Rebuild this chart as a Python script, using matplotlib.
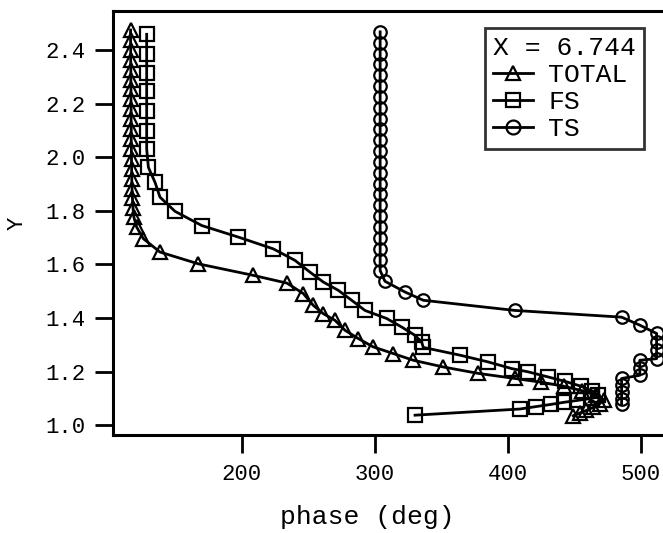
import matplotlib
matplotlib.use("Agg")
import matplotlib.pyplot as plt
from matplotlib.lines import Line2D

# ---- data ----
total_phase = [116.5, 116.5, 116.6, 116.6, 116.7, 116.7, 116.8, 116.8, 116.9, 116.9,
               117.0, 117.0, 117.1, 117.2, 117.3, 117.4, 117.6, 117.9, 118.3, 119.0,
               121.1, 126.1, 138.6, 167.4, 208.7, 234.0, 246.3, 253.8, 261.3, 270.1,
               277.6, 287.6, 298.8, 313.9, 328.9, 351.4, 377.7, 405.3, 425.0, 442.0,
               456.0, 466.0, 472.0, 469.0, 464.0, 459.0, 454.0, 449.0]
total_y = [2.475, 2.438, 2.401, 2.364, 2.327, 2.290, 2.253, 2.216, 2.179, 2.142,
           2.105, 2.068, 2.031, 1.994, 1.957, 1.920, 1.883, 1.848, 1.812, 1.776,
           1.739, 1.696, 1.646, 1.602, 1.559, 1.530, 1.491, 1.447, 1.416, 1.391,
           1.354, 1.323, 1.292, 1.267, 1.242, 1.217, 1.193, 1.174, 1.160, 1.145,
           1.128, 1.112, 1.095, 1.080, 1.066, 1.055, 1.045, 1.035]

fs_phase = [128.6, 128.6, 128.6, 128.6, 128.6, 128.6, 128.6, 129.9, 134.9, 138.6,
            149.9, 170.0, 197.4, 223.7, 240.0, 251.3, 261.3, 272.6, 282.6, 292.6,
            308.9, 320.2, 330.2, 335.2, 336.4, 364.0, 385.0, 402.8, 415.0, 430.0,
            443.0, 455.0, 463.0, 468.0, 463.0, 452.0, 442.0, 432.0, 421.0, 409.0,
            330.2]
fs_y = [2.459, 2.385, 2.316, 2.248, 2.174, 2.099, 2.031, 1.962, 1.906, 1.851,
        1.798, 1.745, 1.702, 1.658, 1.615, 1.571, 1.534, 1.503, 1.466, 1.428,
        1.398, 1.366, 1.335, 1.310, 1.290, 1.261, 1.236, 1.211, 1.199, 1.180,
        1.163, 1.145, 1.128, 1.112, 1.100, 1.092, 1.085, 1.077, 1.069, 1.060,
        1.037]

ts_phase = [304.0, 304.0, 304.0, 304.0, 304.0, 304.0, 304.0, 304.0, 304.0, 304.0,
            304.0, 304.0, 304.0, 304.0, 304.0, 304.0, 304.0, 304.0, 304.0, 304.0,
            304.0, 304.0, 304.0, 307.6, 322.6, 336.4, 405.3, 485.4, 499.1, 511.7,
            511.7, 511.7, 511.7, 499.1, 499.1, 499.1, 485.4, 485.4, 485.4, 485.4,
            485.4]
ts_y = [2.468, 2.428, 2.387, 2.347, 2.306, 2.266, 2.225, 2.185, 2.144, 2.104,
        2.063, 2.023, 1.982, 1.942, 1.901, 1.861, 1.820, 1.780, 1.739, 1.699,
        1.658, 1.618, 1.577, 1.537, 1.497, 1.466, 1.428, 1.403, 1.373, 1.342,
        1.310, 1.279, 1.248, 1.242, 1.215, 1.186, 1.174, 1.149, 1.124, 1.099,
        1.078]

x_ticks = [200, 300, 400, 500]
y_ticks = [1.0, 1.2, 1.4, 1.6, 1.8, 2.0, 2.2, 2.4]
legend_title = "X = 6.744"
labels = ["TOTAL", "FS", "TS"]

plt.rcParams['font.family'] = ['Liberation Mono', 'DejaVu Sans Mono']

fig = plt.figure(figsize=(6.63, 5.33), dpi=100)
ax = fig.add_axes([113/663, 1-435/533, 1-113/663, (435-11)/533])

lw = 2.0
common = dict(color='black', lw=lw, mfc='none', mec='black', mew=1.6)
ax.plot(total_phase, total_y, marker='^', ms=9.5, **common)
ax.plot(fs_phase, fs_y, marker='s', ms=10, **common)
ax.plot(ts_phase, ts_y, marker='o', ms=9, **common)

ax.set_xlim(103.3, 516.5)
ax.set_ylim(0.963, 2.546)
ax.set_xticks(x_ticks)
ax.set_xticklabels([str(v) for v in x_ticks])
ax.set_yticks(y_ticks)
ax.set_yticklabels([f"{v:.1f}" for v in y_ticks])
ax.tick_params(axis='both', direction='out', length=13, width=2.0,
               labelsize=16, pad=7, colors='black')
ax.tick_params(axis='x', pad=8)

for s in ['left', 'bottom', 'top']:
    ax.spines[s].set_linewidth(2.2)
ax.spines['right'].set_visible(False)

ax.set_xlabel("phase (deg)", fontsize=19)
ax.xaxis.set_label_coords((367-113)/550, -0.165)
ax.set_ylabel("Y", fontsize=16)
ax.yaxis.set_label_coords(-0.155, 0.5)

handles = [Line2D([], [], marker=m, ms=ms, **common)
           for m, ms in [('^', 10), ('s', 10), ('o', 10)]]
leg = ax.legend(handles, labels, title=legend_title, loc='upper right',
                bbox_to_anchor=(0.965, 0.96), borderaxespad=0,
                fontsize=19, title_fontsize=19, frameon=True, fancybox=False,
                edgecolor='black', handlelength=1.5, handletextpad=0.6,
                labelspacing=0.12, borderpad=0.3, alignment='left')
leg.get_frame().set_linewidth(2.0)

fig.savefig("out.png", dpi=100)
